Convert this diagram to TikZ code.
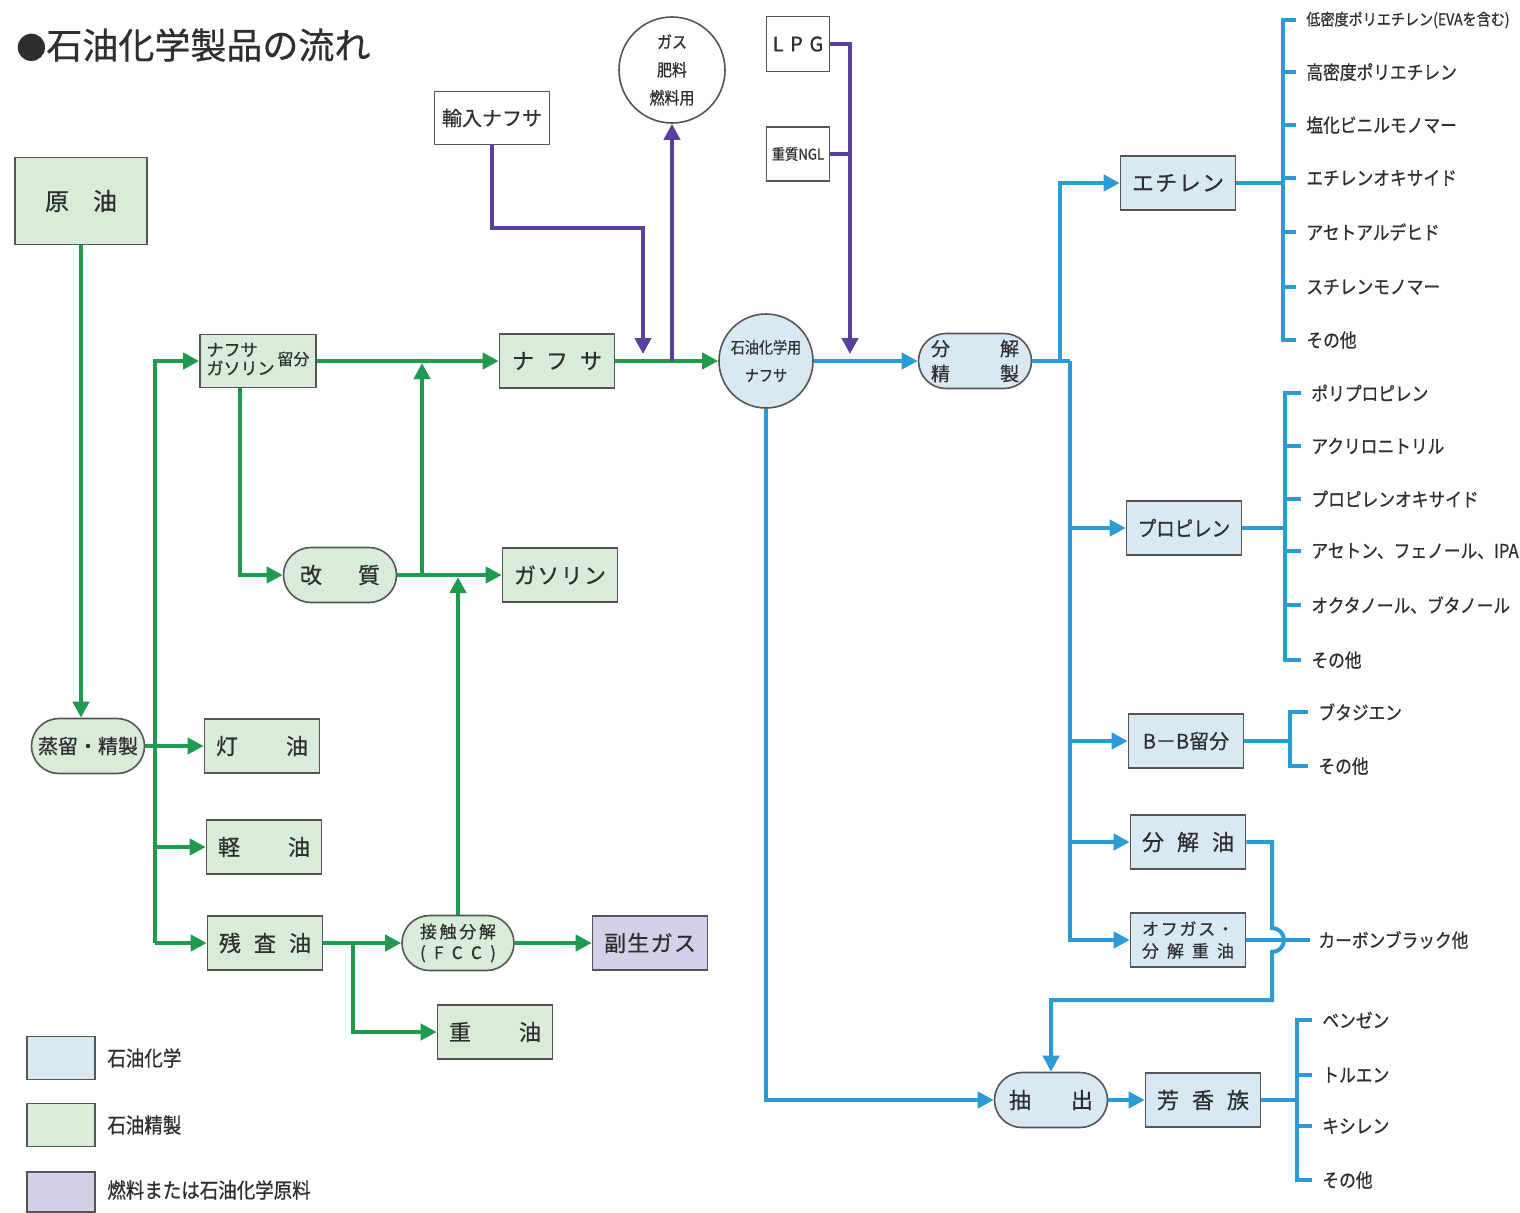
\documentclass[tikz,border=0pt]{standalone}
\usepackage{fontspec}
\usepackage{graphicx}
\setmainfont{Noto Sans CJK JP}[FakeBold=0.6,AutoFakeBold=0.6]
\newfontfamily\jpc[FakeStretch=0.88,FakeBold=0.6]{Noto Sans CJK JP}
\usetikzlibrary{arrows.meta,shapes.misc}
\definecolor{gline}{HTML}{1F9A4E}
\definecolor{gfill}{HTML}{D9ECD9}
\definecolor{bline}{HTML}{2B9BD6}
\definecolor{bfill}{HTML}{D9E9F4}
\definecolor{pline}{HTML}{5A3F9C}
\definecolor{pfill}{HTML}{D3D0E8}
\definecolor{bord}{HTML}{555555}
\definecolor{txt}{HTML}{2E2E2E}
\newcommand\spr[2]{\makebox[#1][s]{#2}}
\tikzset{
 box/.style={draw=bord, line width=0.8pt, minimum width=57.5pt, minimum height=27pt, inner sep=0pt, font=\fontsize{11}{13}\selectfont, text=txt},
 gbox/.style={box, fill=gfill},
 bbox/.style={box, fill=bfill},
 pbox/.style={box, fill=pfill},
 wbox/.style={box, fill=white},
 rnd/.style={rounded rectangle},
 gl/.style={draw=gline, line width=2pt},
 bl/.style={draw=bline, line width=2pt},
 pl/.style={draw=pline, line width=2pt},
 arr/.style={-{Triangle[length=8pt,width=8pt]}},
 lst/.style={anchor=west, inner sep=0pt, font=\jpc\fontsize{9.5}{11}\selectfont, text=txt},
 tick/.style={bl, shorten >=5pt},
}
\begin{document}
\begin{tikzpicture}[x=0.5pt,y=-0.5pt]
\useasboundingbox[fill=white] (0,0) rectangle (1520,1212);

% title
\node[anchor=west,inner sep=0pt,font=\fontsize{18}{20}\selectfont,text=txt] (title) at (16,45) {{\fontsize{15}{20}\selectfont ●}石油化学製品の流れ};

% refinery side
\node[gbox,minimum width=66pt,minimum height=43.5pt,font=\fontsize{12}{14}\selectfont] (oil) at (81,201) {\spr{36pt}{原\hfill 油}};
\node[gbox,rnd,minimum width=56.5pt,minimum height=27.5pt,font=\fontsize{10}{12}\selectfont] (dist) at (88,746) {蒸留・精製};
\node[gbox] (toyu) at (262,746) {\spr{46pt}{灯\hfill 油}};
\node[gbox] (keiyu) at (264,847) {\spr{46pt}{軽\hfill 油}};
\node[gbox] (zansa) at (265,943) {\spr{46pt}{残\hfill 査\hfill 油}};
\node[gbox,minimum width=58pt,minimum height=26.5pt] (ryubun) at (258,361) {\fontsize{8.5}{9.5}\selectfont\renewcommand\arraystretch{0.8}\begin{tabular}{@{}l@{}}ナフサ\\ガソリン\end{tabular}\,{\fontsize{8}{9}\selectfont 留分}};
\node[gbox,rnd,minimum width=56.5pt,minimum height=27.5pt] (kai) at (340,575) {\spr{40pt}{改\hfill 質}};
\node[gbox] (naphtha) at (557,361) {\spr{45pt}{ナ\hfill フ\hfill サ}};
\node[gbox] (gasoline) at (560,575) {\spr{46pt}{ガ\hfill ソ\hfill リ\hfill ン}};
\node[gbox,rnd,minimum width=56pt,minimum height=27.5pt,align=center,font=\fontsize{8.5}{10.5}\selectfont] (fcc) at (458,943) {\spr{38pt}{接\hfill 触\hfill 分\hfill 解}\\\spr{38pt}{(\hfill F\hfill C\hfill C\hfill )}};
\node[pbox] (fukusei) at (650,943) {\spr{46pt}{副\hfill 生\hfill ガ\hfill ス}};
\node[gbox] (juyu) at (495,1032) {\spr{46pt}{重\hfill 油}};

% inputs
\node[wbox,minimum height=26.5pt,font=\fontsize{10}{12}\selectfont] (yunyu) at (492,118) {輸入ナフサ};
\node[circle,draw=bord,line width=0.8pt,fill=white,minimum size=53pt,inner sep=0pt,align=center,font=\jpc\fontsize{8.5}{14}\selectfont,text=txt] (gas) at (672,70) {ガス\\肥料\\燃料用};
\node[wbox,minimum width=31.5pt,minimum height=27.5pt,font=\fontsize{10}{12}\selectfont] (lpg) at (798,44) {L\,\,P\,\,G};
\node[wbox,minimum width=31.5pt,minimum height=27pt,font=\jpc\fontsize{7.5}{9}\selectfont] (ngl) at (798,154) {重質NGL};

% petrochemical side
\node[circle,draw=bord,line width=0.8pt,fill=bfill,minimum size=47pt,inner sep=0pt,align=center,font=\jpc\fontsize{8}{14}\selectfont,text=txt] (petnap) at (766,361) {石油化学用\\ナフサ};
\node[bbox,rnd,minimum width=56.5pt,minimum height=27.5pt,align=center,font=\fontsize{9.5}{12.5}\selectfont] (bunkai) at (975,361) {\spr{44pt}{分\hfill 解}\\\spr{44pt}{精\hfill 製}};
\node[bbox] (ethylene) at (1178,183) {\spr{46pt}{エ\hfill チ\hfill レ\hfill ン}};
\node[bbox,font=\jpc\fontsize{10.5}{12}\selectfont] (propylene) at (1184,528) {プロピレン};
\node[bbox,font=\fontsize{10}{12}\selectfont] (bb) at (1186,741) {B－B留分};
\node[bbox] (bunkaiyu) at (1188,842) {\spr{46pt}{分\hfill 解\hfill 油}};
\node[bbox,align=center,font=\fontsize{8.5}{11}\selectfont] (offgas) at (1188,940) {\spr{46pt}{オ\hfill フ\hfill ガ\hfill ス\hfill ・}\\\spr{46pt}{分\hfill 解\hfill 重\hfill 油}};
\node[bbox,rnd,minimum width=56.5pt,minimum height=27.5pt] (chu) at (1051,1100) {\spr{42pt}{抽\hfill 出}};
\node[bbox] (hoko) at (1203,1100) {\spr{46pt}{芳\hfill 香\hfill 族}};

% lists
\node[lst,font=\jpc\fontsize{8}{10}\selectfont] (e1) at (1306,20) {低密度ポリエチレン(EVAを含む)};
\node[lst] (e2) at (1306,72) {高密度ポリエチレン};
\node[lst] (e3) at (1306,125) {塩化ビニルモノマー};
\node[lst] (e4) at (1306,178) {エチレンオキサイド};
\node[lst] (e5) at (1306,232) {アセトアルデヒド};
\node[lst] (e6) at (1306,287) {スチレンモノマー};
\node[lst] (e7) at (1306,340) {その他};

\node[lst] (q1) at (1311,393) {ポリプロピレン};
\node[lst] (q2) at (1311,446) {アクリロニトリル};
\node[lst] (q3) at (1311,499) {プロピレンオキサイド};
\node[lst] (q4) at (1311,551) {アセトン、フェノール、IPA};
\node[lst] (q5) at (1311,605) {オクタノール、ブタノール};
\node[lst] (q6) at (1311,660) {その他};

\node[lst] (r1) at (1318,712) {ブタジエン};
\node[lst] (r2) at (1318,766) {その他};

\node[lst] (cb) at (1318,940) {カーボンブラック他};

\node[lst] (a1) at (1322,1020) {ベンゼン};
\node[lst] (a2) at (1322,1075) {トルエン};
\node[lst] (a3) at (1322,1126) {キシレン};
\node[lst] (a4) at (1322,1180) {その他};

% legend
\node[bbox,minimum width=34pt,minimum height=21.5pt] (lg1) at (61,1058) {};
\node[gbox,minimum width=34pt,minimum height=21.5pt] (lg2) at (61,1125) {};
\node[pbox,minimum width=34pt,minimum height=20pt] (lg3) at (61,1192) {};
\node[lst,font=\jpc\fontsize{10.5}{12}\selectfont] (lt1) at (107,1058) {石油化学};
\node[lst,font=\jpc\fontsize{10.5}{12}\selectfont] (lt2) at (107,1125) {石油精製};
\node[lst,font=\jpc\fontsize{10.5}{12}\selectfont] (lt3) at (107,1190) {燃料または石油化学原料};

% ---- green connectors
\coordinate (tTop) at (155,361);
\coordinate (tBot) at (155,943);
\draw[gl,arr] (oil.south) -- (oil.south |- dist.north);
\draw[gl,arr] (tBot) |- (ryubun.west);
\draw[gl,arr] (tBot) -- (zansa.west);
\draw[gl,arr] (dist.east) -- (toyu.west);
\draw[gl,arr] (tTop |- keiyu.west) -- (keiyu.west);
\draw[gl,arr] ([xshift=-9pt]ryubun.south) |- (kai.west);
\draw[gl,arr] (ryubun.east) -- (naphtha.west);
\draw[gl,arr] (kai.east) -- (gasoline.west);
\coordinate (j1) at (422,575);
\draw[gl,arr] (j1) -- ([yshift=-1pt]j1 |- naphtha.west);
\draw[gl,arr] (fcc.north) -- ([yshift=-1pt]fcc.north |- gasoline.west);
\draw[gl,arr] (zansa.east) -- (fcc.west);
\coordinate (j2) at (353,943);
\draw[gl,arr] (j2) |- (juyu.west);
\draw[gl,arr] (fcc.east) -- (fukusei.west);
\draw[gl,arr] (naphtha.east) -- (petnap.west);

% ---- purple connectors
\coordinate (p1) at (643,228);
\coordinate (p1e) at (643,354);
\draw[pl,arr] (yunyu.south) |- (p1) -- (p1e);
\coordinate (p2) at (672,361);
\draw[pl,arr] (p2) -- (gas.south);
\coordinate (p3) at (850,354);
\draw[pl,arr] (lpg.east) -| (p3);
\draw[pl] (ngl.east) -- (ngl.east -| p3);

% ---- blue connectors
\draw[bl,arr] (petnap.east) -- (bunkai.west);
\coordinate (bt1) at (1060,361);
\coordinate (bt2) at (1070,361);
\draw[bl] (bunkai.east) -- (bt2);
\draw[bl,arr] (bt1) |- (ethylene.west);
\draw[bl,arr] (bt2) |- (offgas.west);
\draw[bl,arr] (bt2 |- propylene.west) -- (propylene.west);
\draw[bl,arr] (bt2 |- bb.west) -- (bb.west);
\draw[bl,arr] (bt2 |- bunkaiyu.west) -- (bunkaiyu.west);
\draw[bl,arr] (petnap.south) |- (chu.west);
\draw[bl,arr] (chu.east) -- (hoko.west);
\coordinate (hA) at (1272,928);
\coordinate (hB) at (1272,1000);
\draw[bl,arr] (bunkaiyu.east) -| (hA) arc[start angle=90,end angle=-90,radius=6pt] -- (hB) -| (chu.north);
\draw[bl,shorten >=4pt] (offgas.east) -- (cb.west);

% brackets
\coordinate (eb) at (1283,183);
\draw[bl] (ethylene.east) -- (eb);
\draw[bl,shorten <=5pt,shorten >=5pt] (e1.west) -| (eb) |- (e7.west);
\foreach \n in {e2,e3,e4,e5,e6} \draw[tick] (eb |- \n.west) -- (\n.west);

\coordinate (pb) at (1285,528);
\draw[bl] (propylene.east) -- (pb);
\draw[bl,shorten <=5pt,shorten >=5pt] (q1.west) -| (pb) |- (q6.west);
\foreach \n in {q2,q3,q4,q5} \draw[tick] (pb |- \n.west) -- (\n.west);

\coordinate (rb) at (1290,741);
\draw[bl] (bb.east) -- (rb);
\draw[bl,shorten <=5pt,shorten >=5pt] (r1.west) -| (rb) |- (r2.west);

\coordinate (ab) at (1297,1100);
\draw[bl] (hoko.east) -- (ab);
\draw[bl,shorten <=5pt,shorten >=5pt] (a1.west) -| (ab) |- (a4.west);
\foreach \n in {a2,a3} \draw[tick] (ab |- \n.west) -- (\n.west);
\end{tikzpicture}
\end{document}
